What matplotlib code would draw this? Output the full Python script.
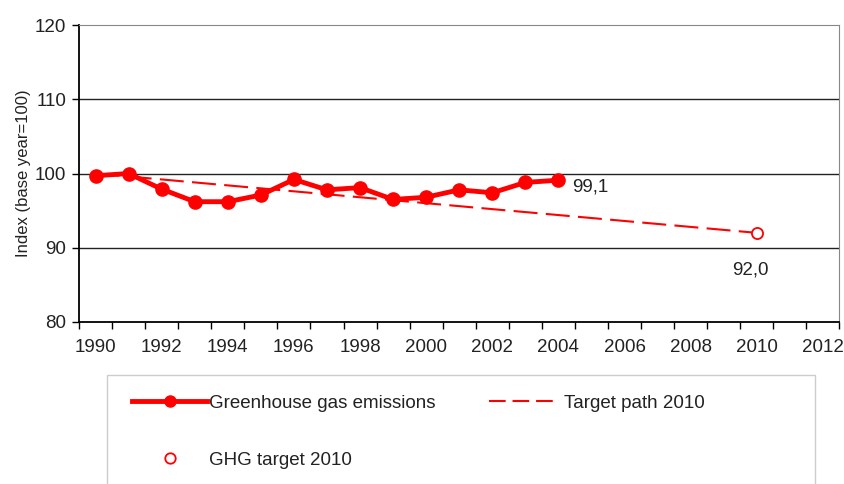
import matplotlib
matplotlib.use("Agg")
import matplotlib.pyplot as plt
from matplotlib.patches import Rectangle
from matplotlib.lines import Line2D

plt.rcParams['font.family'] = ['Liberation Sans', 'DejaVu Sans']

years = list(range(1990, 2005))
emissions = [99.7, 100.0, 97.9, 96.2, 96.2, 97.1, 99.2, 97.8, 98.1, 96.5, 96.8, 97.8, 97.4, 98.8, 99.1]
path_years = [1990, 2010]
path_values = [100.0, 92.0]
target_year = 2010
target_value = 92.0
label_years = list(range(1990, 2013, 2))

red = "#ff0000"
txt = "#222222"
fig = plt.figure(figsize=(8.44, 4.84), dpi=100)
ax = fig.add_axes([0.0936, 0.335, 0.901, 0.613])

ax.plot(path_years, path_values, color=red, lw=1.5, dashes=(11.5, 4), zorder=2)
ax.plot(years, emissions, color=red, lw=3.5, marker="o", ms=9.5, zorder=3)
ax.plot([target_year], [target_value], "o", mfc="white", mec=red, mew=1.3, ms=8, zorder=4)

ax.annotate("99,1", (years[-1], emissions[-1]), xytext=(10, -5), textcoords="offset points",
            fontsize=13.5, color=txt, va="center")
ax.annotate("92,0", (target_year, target_value), xytext=(-18, -27), textcoords="offset points",
            fontsize=13.5, color=txt, va="center")

ax.set_ylim(80, 120)
ax.set_yticks([80, 90, 100, 110, 120])
ax.set_xlim(1989.5, 2012.5)
ax.set_xticks([y - 0.5 for y in range(1990, 2014)])
ax.set_xticklabels([])
ax.set_xticks(label_years, minor=True)
ax.set_xticklabels([str(y) for y in label_years], minor=True)
ax.tick_params(axis="x", which="minor", length=0, pad=12, labelsize=13.5, labelcolor=txt)
ax.tick_params(axis="x", which="major", length=5, width=1, color="black")
ax.tick_params(axis="y", length=5, width=1, labelsize=13.5, pad=4, labelcolor=txt)

for v in [90, 100, 110]:
    ax.axhline(v, color="#222222", lw=1, zorder=1)
ax.spines["top"].set_color("#888888")
ax.spines["right"].set_color("#888888")
ax.spines["left"].set_linewidth(1.3)
ax.spines["bottom"].set_linewidth(1.3)

ax.set_ylabel("Index (base year=100)", fontsize=12, labelpad=3, color=txt)

# legend box
fig.patches.append(Rectangle((107 / 844, -0.05), 708 / 844, (484 - 375) / 484 + 0.05,
                             transform=fig.transFigure, fill=False, ec="#cccccc", lw=1))
h1 = Line2D([], [], color=red, lw=3.5, marker="o", ms=8)
h2 = Line2D([], [], color=red, lw=1.5, dashes=(8, 3.3))
h3 = Line2D([], [], ls="none", marker="o", mfc="white", mec=red, mew=1.3, ms=7.5)
legend_items = [(h1, "Greenhouse gas emissions", 132, 403, 4.0, 0.1),
                (h2, "Target path 2010", 489, 403, 3.57, 0.45),
                (h3, "GHG target 2010", 132, 460, 4.0, 0.1)]
for h, lab, x, y, hl, pad in legend_items:
    fig.legend([h], [lab], loc="center left", bbox_to_anchor=(x / 844, 1 - y / 484),
               frameon=False, fontsize=13.5, handlelength=hl, handletextpad=pad,
               borderpad=0, borderaxespad=0, labelcolor=txt)

fig.savefig("out.png", dpi=100)
